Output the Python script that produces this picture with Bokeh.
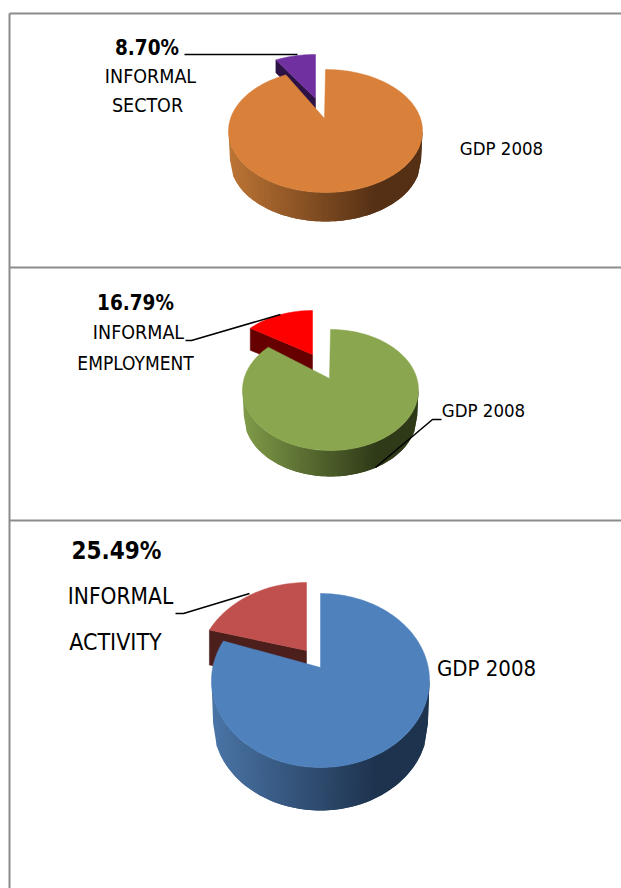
import numpy as np
from bokeh.plotting import figure
from bokeh.models import Range1d
from bokeh.core.properties import value
from bokeh.embed import file_html
from bokeh.resources import INLINE

# ---- data ----
chart_names = ["INFORMAL SECTOR", "INFORMAL EMPLOYMENT", "INFORMAL ACTIVITY"]
label_percent = ["8.70%", "16.79%", "25.49%"]
drawn_slice_share = [6.7, 12.5, 17.5]      # share the small slice occupies as drawn
other_label = "GDP 2008"

# ---- styling / layout ----
FONT = "DejaVu Sans Condensed"
pies = [
    dict(cx=325, cy=130.5, rx=97, ry=61.5, depth=29, tip=(324, 118),
         sx=315, sy=115.5, stip=(315, 98), wall=13,
         top="#D9813B", side_l="#BC7434", side_r="#553015",
         slice="#7030A0", wallc="#2D1245"),
    dict(cx=330, cy=389.5, rx=88, ry=60.5, depth=26, tip=(329, 378),
         sx=312, sy=370.5, stip=(312, 354), wall=22,
         top="#8AA64F", side_l="#7F9A48", side_r="#2F3A18",
         slice="#FF0000", wallc="#660000"),
    dict(cx=320, cy=680, rx=109, ry=87, depth=43, tip=(320, 667),
         sx=306, sy=669, stip=(306, 650), wall=35,
         top="#4F81BD", side_l="#4A74A6", side_r="#1E334E",
         slice="#C0504D", wallc="#4D1F1C"),
]
texts = [
    (label_percent[0], 146.5, 47, 20.5, "bold"), ("INFORMAL", 150, 76, 19.5, "normal"),
    ("SECTOR", 147, 105, 19.5, "normal"), (other_label, 501, 148, 18.5, "normal"),
    (label_percent[1], 135, 302, 20.5, "bold"), ("INFORMAL", 138, 332, 19.5, "normal"),
    ("EMPLOYMENT", 135, 362, 19, "normal"), (other_label, 483, 410, 18.5, "normal"),
    (label_percent[2], 116, 550, 24, "bold"), ("INFORMAL", 120, 595, 22.5, "normal"),
    ("ACTIVITY", 115, 641, 23, "normal"), (other_label, 486, 668, 22, "normal"),
]
leaders = [
    ([184, 297], [54, 54]),
    ([185, 191, 280], [340, 340, 314]),
    ([441, 432, 375], [419, 419, 467]),
    ([175, 183, 249], [613, 613, 593]),
]
frame = [([9, 621], [13, 13]), ([9, 621], [267, 267]), ([9, 621], [520, 520]), ([9, 9], [13, 888])]

p = figure(width=621, height=888, output_backend="svg", toolbar_location=None,
           x_range=Range1d(0, 621), y_range=Range1d(888, 0), min_border=0)
p.axis.visible = False
p.grid.visible = False
p.outline_line_color = None
p.background_fill_color = "#FFFFFF"
p.border_fill_color = "#FFFFFF"

for xs, ys in frame:
    p.line(xs, ys, line_color="#8C8C8C", line_width=2)


def hex2rgb(h):
    return np.array([int(h[i:i + 2], 16) for i in (1, 3, 5)], float)


def mix(a, b, f):
    c = hex2rgb(a) * (1 - f) + hex2rgb(b) * f
    return "#%02X%02X%02X" % tuple(int(round(v)) for v in c)


for pie, share in zip(pies, drawn_slice_share):
    t_s = 2 * np.pi * share / 100
    cx, cy, rx, ry, d = pie["cx"], pie["cy"], pie["rx"], pie["ry"], pie["depth"]

    # exploded slice: cut wall, then its top face
    corner = (pie["sx"] - rx * np.sin(t_s), pie["sy"] - ry * np.cos(t_s))
    w = pie["wall"]
    stx, sty = pie["stip"]
    p.patch([stx, corner[0], corner[0], stx], [sty, corner[1], corner[1] + w, sty + w],
            fill_color=pie["wallc"], line_color=pie["wallc"], line_width=0.5)
    ts = np.linspace(-t_s, 0, 24)
    p.patch([stx] + list(pie["sx"] + rx * np.sin(ts)), [sty] + list(pie["sy"] - ry * np.cos(ts)),
            fill_color=pie["slice"], line_color=pie["slice"], line_width=0.5)

    # side of the main slice: vertical bands painted left to right, each overlapping the next
    xe = np.linspace(-1, 1, 61)
    qx, qy, qc = [], [], []
    for i in range(len(xe) - 1):
        j = min(i + 2, len(xe) - 1)
        seg = xe[i:j + 1]
        c = np.sqrt(np.clip(1 - seg ** 2, 0, 1))
        qx.append(list(cx + rx * seg) + list(cx + rx * 0.985 * seg[::-1]))
        qy.append(list(cy + ry * c) + list(cy + d + ry * c[::-1]))
        qc.append(mix(pie["side_l"], pie["side_r"], min(1.0, (xe[i] + 1) / 1.5)))
    p.patches(qx, qy, fill_color=qc, line_color=None)

    # top face of the main slice
    tm = np.linspace(0, 2 * np.pi - t_s, 180)
    p.patch([pie["tip"][0]] + list(cx + rx * np.sin(tm)), [pie["tip"][1]] + list(cy - ry * np.cos(tm)),
            fill_color=pie["top"], line_color=pie["top"], line_width=0.5)

for xs, ys in leaders:
    p.line(xs, ys, line_color="#000000", line_width=1.6)

for s, x, y, size, style in texts:
    p.text([x], [y], text=[s], text_font=value(FONT), text_font_size=f"{size}px",
           text_font_style=style, text_align="center", text_baseline="middle", text_color="#000000")

open("out.html", "w").write(file_html(p, INLINE))
